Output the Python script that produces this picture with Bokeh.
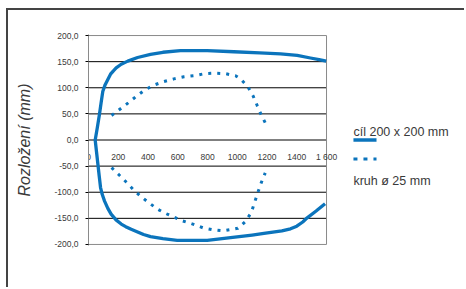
from bokeh.plotting import figure
from bokeh.models import Range1d, LinearAxis, FixedTicker, Label
from bokeh.core.properties import value
from bokeh.embed import file_html
from bokeh.resources import INLINE

# ---- data ----
solid_upper_x = [45, 60, 74, 85, 96, 112, 130, 148, 166, 186, 220, 264, 330, 417, 500, 618, 798, 977, 1150, 1291, 1403, 1492, 1550, 1598]
solid_upper_y = [0, 25, 50, 72, 93, 106, 116, 126, 132, 138, 145, 151, 158, 164, 168, 171, 171, 169, 167, 165, 162, 157, 154, 151]
solid_lower_x = [45, 54, 63, 72, 81, 92, 108, 130, 152, 185, 220, 250, 287, 330, 370, 417, 500, 596, 798, 955, 1100, 1179, 1300, 1358, 1400, 1440, 1470, 1530, 1590]
solid_lower_y = [0, -23, -46, -69, -91, -104, -117, -131, -142, -153, -161, -166, -171, -176, -181, -185, -189, -192, -192, -187, -182, -179, -174, -170, -165, -157, -149, -136, -122]

dot_upper_x = [155, 211, 267, 323, 379, 439, 506, 574, 641, 708, 780, 854, 921, 988, 1022, 1071, 1107, 1134, 1163, 1190]
dot_upper_y = [47, 59, 71, 84, 96, 105, 112, 117, 121, 123, 127, 128, 127, 123, 117, 102, 84, 66, 47, 32]
dot_lower_x = [155, 206, 255, 305, 356, 410, 462, 506, 569, 634, 701, 768, 836, 905, 966, 1004, 1055, 1094, 1116, 1138, 1161, 1188]
dot_lower_y = [-53, -67, -81, -96, -109, -121, -132, -139, -147, -155, -161, -168, -172, -174, -171, -169, -156, -139, -120, -101, -82, -63]

series_names = ["cíl 200 x 200 mm", "kruh ø 25 mm"]
x_ticks = [0, 200, 400, 600, 800, 1000, 1200, 1400, 1600]
x_tick_labels = ["0", "200", "400", "600", "800", "1000", "1200", "1400", "1 600"]
y_ticks = [-200, -150, -100, -50, 0, 50, 100, 150, 200]
y_tick_labels = ["-200,0", "-150,0", "-100,0", "-50,0", "0,0", "50,0", "100,0", "150,0", "200,0"]
x_title = "Vzdálenost (mm)"
y_title = "Rozložení (mm)"

# ---- style ----
BLUE = "#0B74BC"
TEXT = "#3a3a3a"
BOX = "#8a8a8a"
FONT = "Liberation Sans"
X_MIN, X_MAX = 0, 1600
Y_MIN, Y_MAX = -200, 200

p = figure(width=458, height=279, output_backend="svg", toolbar_location=None,
           x_range=Range1d(0, 2514), y_range=Range1d(-202, 202),
           x_axis_location=None, y_axis_location="left",
           min_border_left=80, min_border_right=4, min_border_top=24, min_border_bottom=44,
           background_fill_color="white", border_fill_color="white")
p.styles = {"margin-left": "6px", "margin-top": "8px",
            "border-left": "2px solid #444444", "border-top": "2px solid #444444"}
p.outline_line_color = None
p.grid.visible = False

# y axis
ya = p.yaxis[0]
ya.ticker = FixedTicker(ticks=y_ticks)
ya.major_label_overrides = {t: l for t, l in zip(y_ticks, y_tick_labels)}
ya.axis_line_color = BOX
ya.major_tick_line_color = "black"
ya.major_tick_out = 3
ya.major_tick_in = 0
ya.minor_tick_line_color = None
ya.major_label_standoff = 7
ya.major_label_text_font = FONT
ya.major_label_text_font_size = "8.5px"
ya.major_label_text_color = TEXT
ya.axis_label = y_title
ya.axis_label_text_font = FONT
ya.axis_label_text_font_style = "italic"
ya.axis_label_text_font_size = "16px"
ya.axis_label_text_color = TEXT
ya.axis_label_standoff = 18

# x axis crossing at y=0
xa = LinearAxis(fixed_location=0, ticker=FixedTicker(ticks=x_ticks),
                major_label_overrides={t: l for t, l in zip(x_ticks, x_tick_labels)})
xa.axis_line_color = None
xa.major_tick_line_color = None
xa.minor_tick_line_color = None
xa.major_label_standoff = 6
xa.major_label_text_font = FONT
xa.major_label_text_font_size = "8.5px"
xa.major_label_text_color = TEXT
p.add_layout(xa, "below")

# gridlines and plot box
grid_vals = [v for v in y_ticks if Y_MIN < v < Y_MAX]
p.segment(x0=[X_MIN] * len(grid_vals), x1=[X_MAX] * len(grid_vals), y0=grid_vals, y1=grid_vals,
          line_color="black", line_width=1)
p.segment(x0=[X_MIN, X_MIN, X_MAX], x1=[X_MAX, X_MAX, X_MAX], y0=[Y_MAX, Y_MIN, Y_MIN], y1=[Y_MAX, Y_MIN, Y_MAX],
          line_color=BOX, line_width=1)

# series
sx = solid_lower_x[::-1] + solid_upper_x[1:]
sy = solid_lower_y[::-1] + solid_upper_y[1:]
p.line(sx, sy, line_color=BLUE, line_width=3.3, line_join="round")
p.line(dot_upper_x, dot_upper_y, line_color=BLUE, line_width=3, line_dash="3 6", line_cap="butt")
p.line(dot_lower_x, dot_lower_y, line_color=BLUE, line_width=3, line_dash="3 6", line_cap="butt")

# legend (drawn manually to keep the original arrangement)
LX0, LX1 = 1781, 1936
p.text(x=[LX0], y=[15], text=[series_names[0]], text_font=value(FONT), text_font_size="12.5px",
       text_baseline="alphabetic", text_align="left", text_color=TEXT)
p.line([LX0, LX1], [0, 0], line_color=BLUE, line_width=3.3)
p.line([LX0, LX1], [-36.3, -36.3], line_color=BLUE, line_width=3, line_dash="4 6")
p.text(x=[LX0], y=[-79], text=[series_names[1]], text_font=value(FONT), text_font_size="12.5px",
       text_baseline="alphabetic", text_align="left", text_color=TEXT)

# x axis title
p.add_layout(Label(x=124, y=-27, x_units="screen", y_units="screen", text=x_title,
                   text_align="center", text_baseline="middle", text_font=FONT,
                   text_font_style="italic", text_font_size="15px", text_color=TEXT))

open("out.html", "w").write(file_html(p, INLINE))
